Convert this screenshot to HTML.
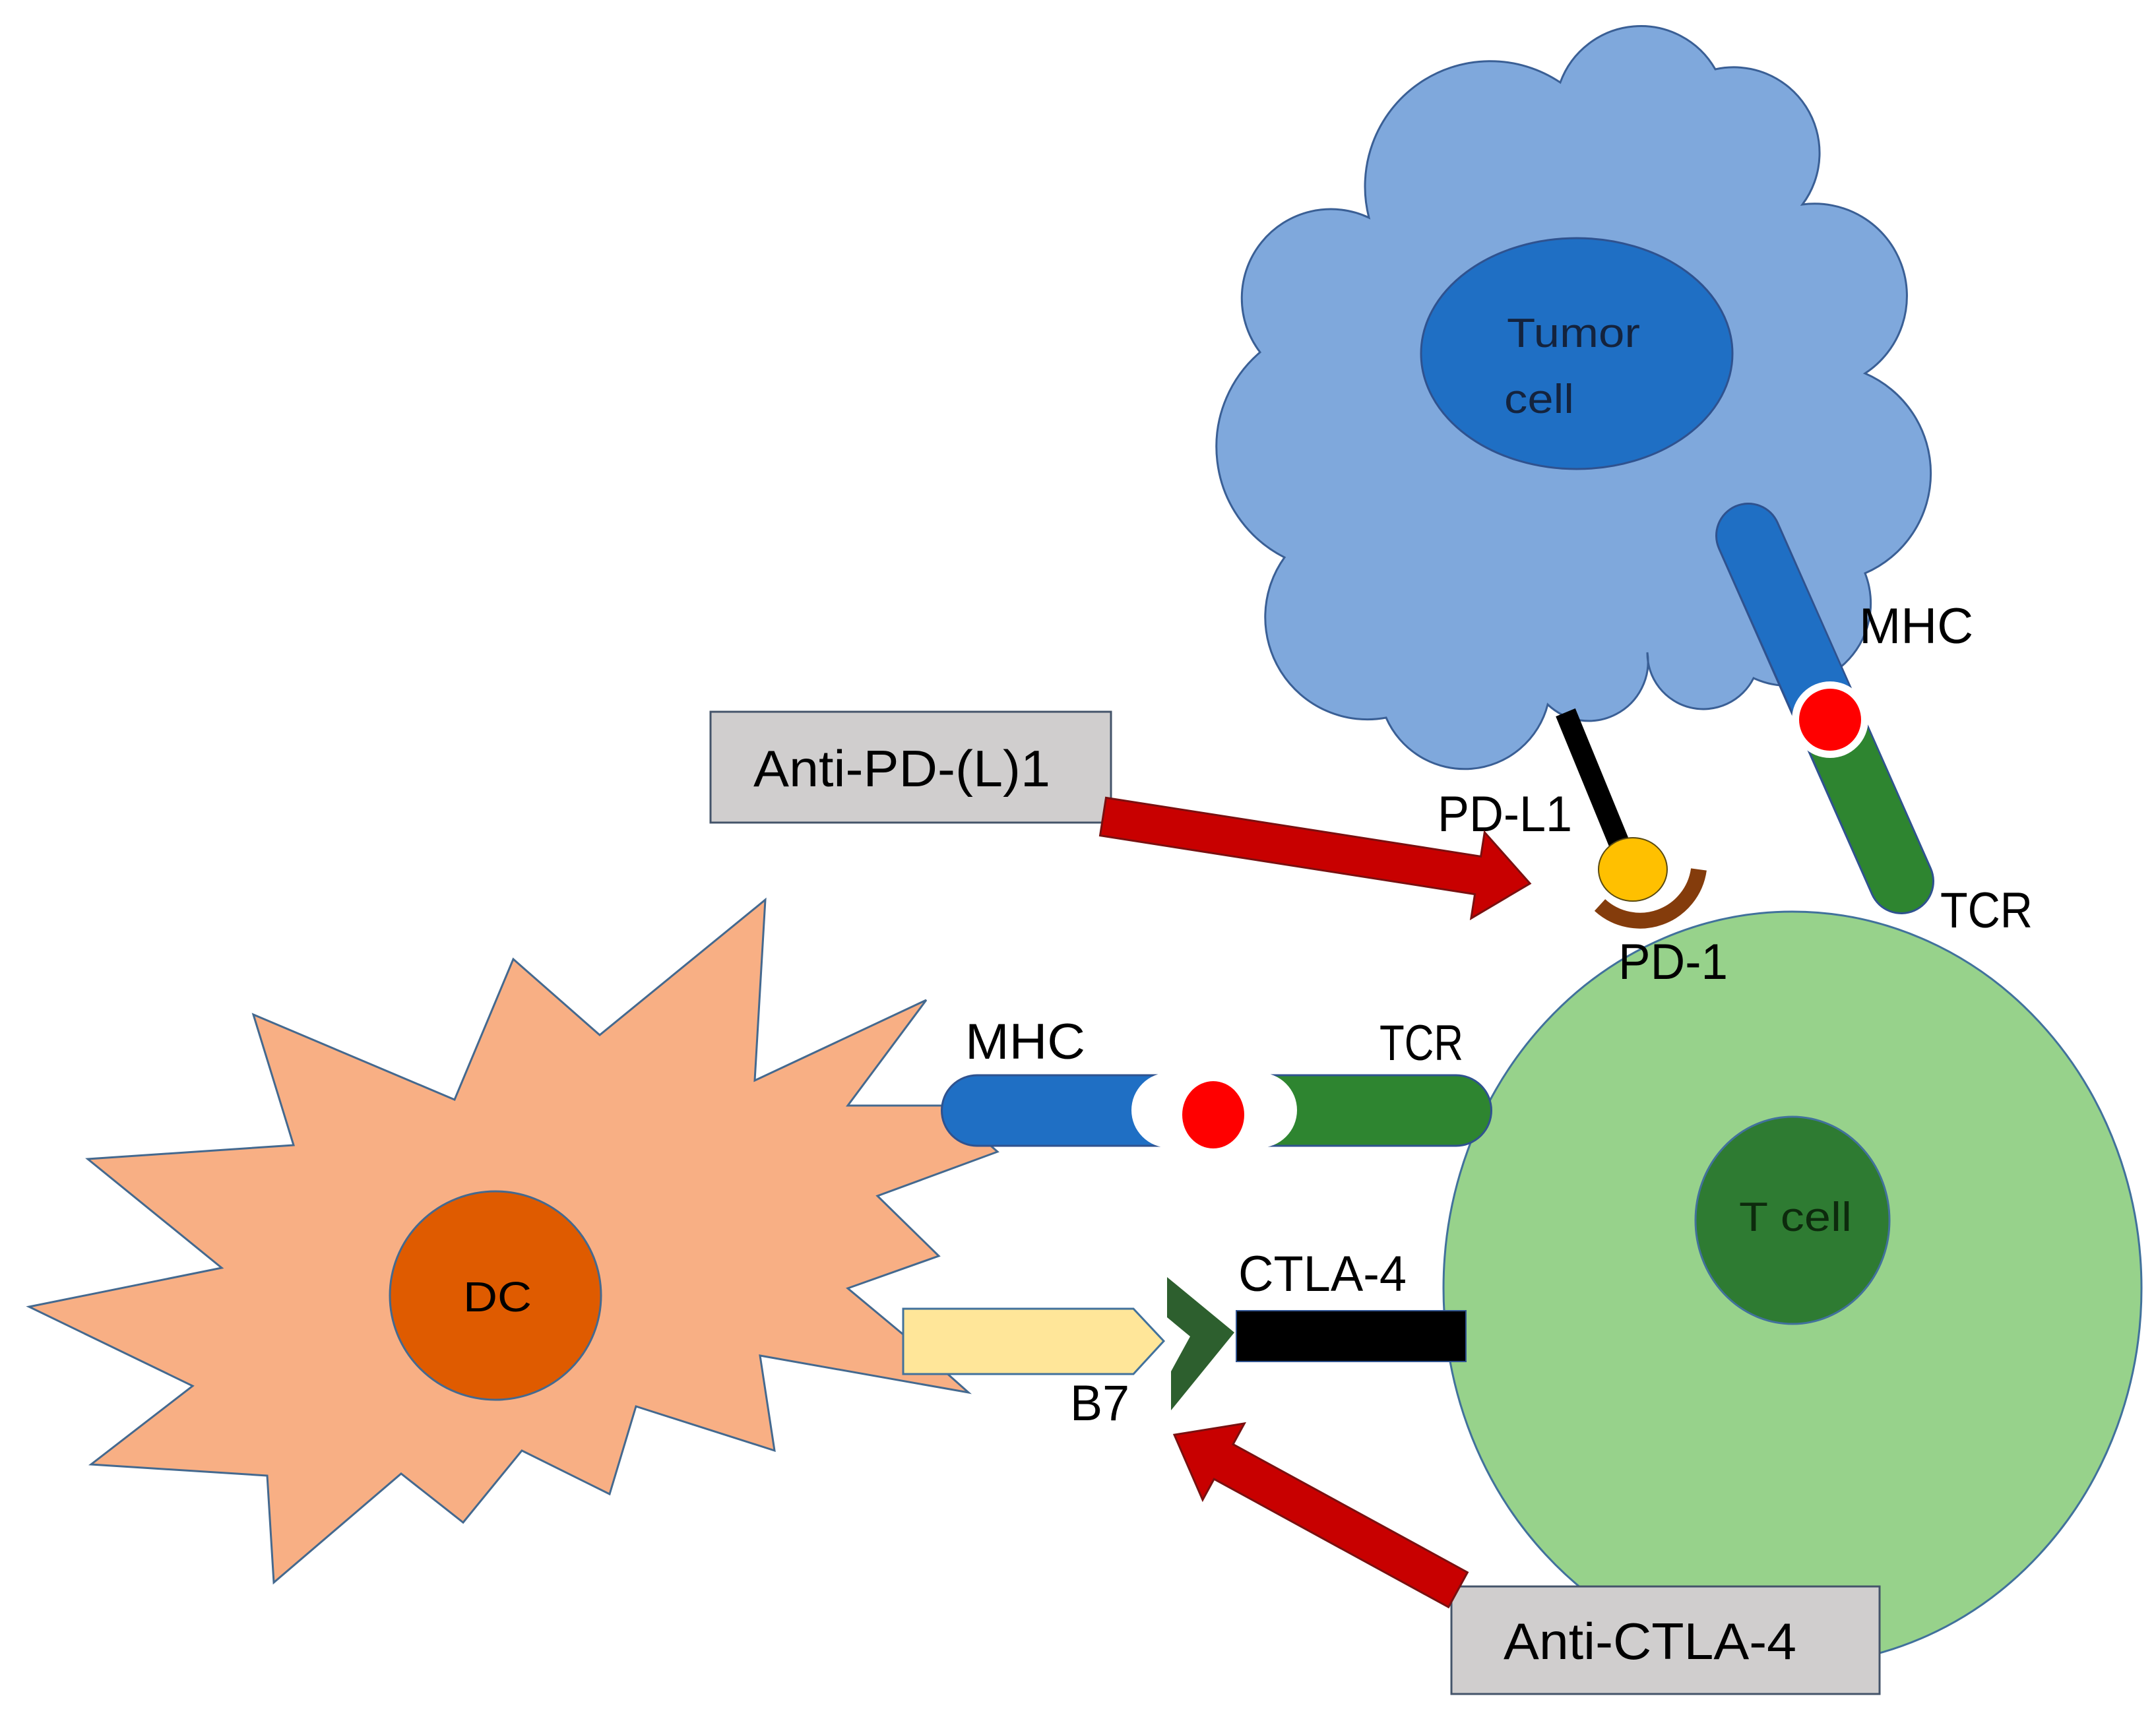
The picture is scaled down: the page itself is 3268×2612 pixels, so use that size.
<!DOCTYPE html>
<html><head><meta charset="utf-8"><style>
html,body{margin:0;padding:0;background:#fff;}
svg{display:block;}
text{font-family:"Liberation Sans",sans-serif;fill:#000;}
</style></head><body>
<svg width="3268" height="2612" viewBox="0 0 3268 2612" xmlns="http://www.w3.org/2000/svg">
<!-- Tumor cloud -->
<path d="M2075,330 A190,190 0 0 1 2365,125 A130,130 0 0 1 2600,105 A130,130 0 0 1 2732,310 A140,140 0 0 1 2827,566 A165,165 0 0 1 2827,869 A125,125 0 0 1 2658,1028 A85,85 0 0 1 2497,989 A90,90 0 0 1 2346,1068 A130,130 0 0 1 2101,1088 A155,155 0 0 1 1947,845 A188,188 0 0 1 1910,534 A135,135 0 0 1 2075,330 Z" fill="#7FA8DC" stroke="#3A5F95" stroke-width="3"/>
<ellipse cx="2390" cy="536" rx="236" ry="175" fill="#1F6FC4" stroke="#2F528F" stroke-width="3"/>
<text x="2284" y="526" font-size="62" textLength="202" lengthAdjust="spacingAndGlyphs" style="fill:#14233d">Tumor</text>
<text x="2280" y="626" font-size="62" textLength="106" lengthAdjust="spacingAndGlyphs" style="fill:#14233d">cell</text>

<!-- T cell -->
<ellipse cx="2717" cy="1953" rx="529" ry="571" fill="#97D28B" stroke="#41719C" stroke-width="3"/>
<ellipse cx="2717" cy="1850" rx="147" ry="157" fill="#2E7B32" stroke="#41719C" stroke-width="3"/>
<text x="2636" y="1866" font-size="62" textLength="171" lengthAdjust="spacingAndGlyphs" style="fill:#0d2a0d">T cell</text>

<!-- Tumor MHC/TCR rod -->
<line x1="2650" y1="812" x2="2882" y2="1336" stroke="#2F528F" stroke-width="100" stroke-linecap="round"/>
<line x1="2650" y1="812" x2="2774" y2="1091" stroke="#1F6FC4" stroke-width="94" stroke-linecap="round"/>
<line x1="2774" y1="1091" x2="2882" y2="1336" stroke="#2E8530" stroke-width="94" stroke-linecap="round"/>
<circle cx="2774" cy="1091" r="58" fill="#fff"/>
<circle cx="2774" cy="1091" r="47" fill="#FF0000"/>
<text x="2818" y="975" font-size="76">MHC</text>
<text x="2941" y="1406" font-size="76" textLength="140" lengthAdjust="spacingAndGlyphs">TCR</text>

<!-- PD-L1 / PD-1 -->
<line x1="2373" y1="1080" x2="2455" y2="1280" stroke="#000" stroke-width="32"/>
<ellipse cx="2475" cy="1318" rx="52" ry="48" fill="#FFC000" stroke="#5a4a10" stroke-width="2"/>
<path d="M2425,1372 A90,90 0 0 0 2575,1318" fill="none" stroke="#843C0C" stroke-width="24"/>
<text x="2179" y="1260" font-size="76" textLength="204" lengthAdjust="spacingAndGlyphs">PD-L1</text>
<text x="2453" y="1484" font-size="76" textLength="166" lengthAdjust="spacingAndGlyphs">PD-1</text>

<!-- DC star -->
<polygon points="1160,1364 1144,1638 1404,1516 1285,1676 1433,1676 1512,1746 1330,1813 1423,1904 1285,1953 1369,2023 1468,2111 1152,2055 1174,2199 964,2132 924,2265 791,2199 702,2308 608,2234 415,2399 405,2237 138,2220 292,2101 44,1981 336,1922 133,1757 445,1736 384,1538 689,1667 778,1454 909,1569" fill="#F8AF84" stroke="#44698F" stroke-width="3"/>
<ellipse cx="751" cy="1964" rx="160" ry="158" fill="#DF5B00" stroke="#44698F" stroke-width="3"/>
<text x="702" y="1988" font-size="64" textLength="104" lengthAdjust="spacingAndGlyphs">DC</text>

<!-- horizontal MHC/TCR -->
<path d="M1481,1630 L1772,1630 L1772,1737 L1481,1737 A53.5,53.5 0 0 1 1481,1630 Z" fill="#1F6FC4" stroke="#2F528F" stroke-width="3"/>
<path d="M1909,1630 L2207,1630 A53.5,53.5 0 0 1 2207,1737 L1909,1737 Z" fill="#2E8530" stroke="#2F528F" stroke-width="3"/>
<circle cx="1772" cy="1683" r="57" fill="#fff"/>
<circle cx="1909" cy="1683" r="57" fill="#fff"/>
<ellipse cx="1839" cy="1690" rx="47" ry="51" fill="#FF0000"/>
<text x="1463" y="1605" font-size="76" textLength="182" lengthAdjust="spacingAndGlyphs">MHC</text>
<text x="2091" y="1607" font-size="76" textLength="127" lengthAdjust="spacingAndGlyphs">TCR</text>

<!-- B7 / CTLA-4 -->
<polygon points="1369,1984 1718,1984 1764,2033 1718,2083 1369,2083" fill="#FFE699" stroke="#41719C" stroke-width="3"/>
<polygon points="1769,1936 1871,2020 1775,2138 1775,2079 1804,2026 1769,1997" fill="#2D5F2E"/>
<rect x="1874" y="1987" width="348" height="77" fill="#000" stroke="#2F528F" stroke-width="2"/>
<text x="1877" y="1957" font-size="76" textLength="255" lengthAdjust="spacingAndGlyphs">CTLA-4</text>
<text x="1622" y="2153" font-size="76" textLength="90" lengthAdjust="spacingAndGlyphs">B7</text>

<!-- Anti-PD-(L)1 -->
<rect x="1077" y="1079" width="607" height="168" fill="#D0CECE" stroke="#44546A" stroke-width="3"/>
<text x="1142" y="1192" font-size="78" textLength="450" lengthAdjust="spacingAndGlyphs">Anti-PD-(L)1</text>
<g transform="translate(1672,1238) rotate(8.9)">
<polygon points="0,-29 575,-29 575,-66 655,0 575,66 575,29 0,29" fill="#C80000" stroke="#7a1010" stroke-width="3"/>
</g>

<!-- Anti-CTLA-4 -->
<rect x="2200" y="2405" width="649" height="163" fill="#D0CECE" stroke="#44546A" stroke-width="3"/>
<text x="2279" y="2515" font-size="78" textLength="444" lengthAdjust="spacingAndGlyphs">Anti-CTLA-4</text>
<g transform="translate(2210,2410) rotate(208.65)">
<polygon points="0,-30 405,-30 405,-66 490,0 405,66 405,30 0,30" fill="#C80000" stroke="#7a1010" stroke-width="3"/>
</g>
</svg>
</body></html>
